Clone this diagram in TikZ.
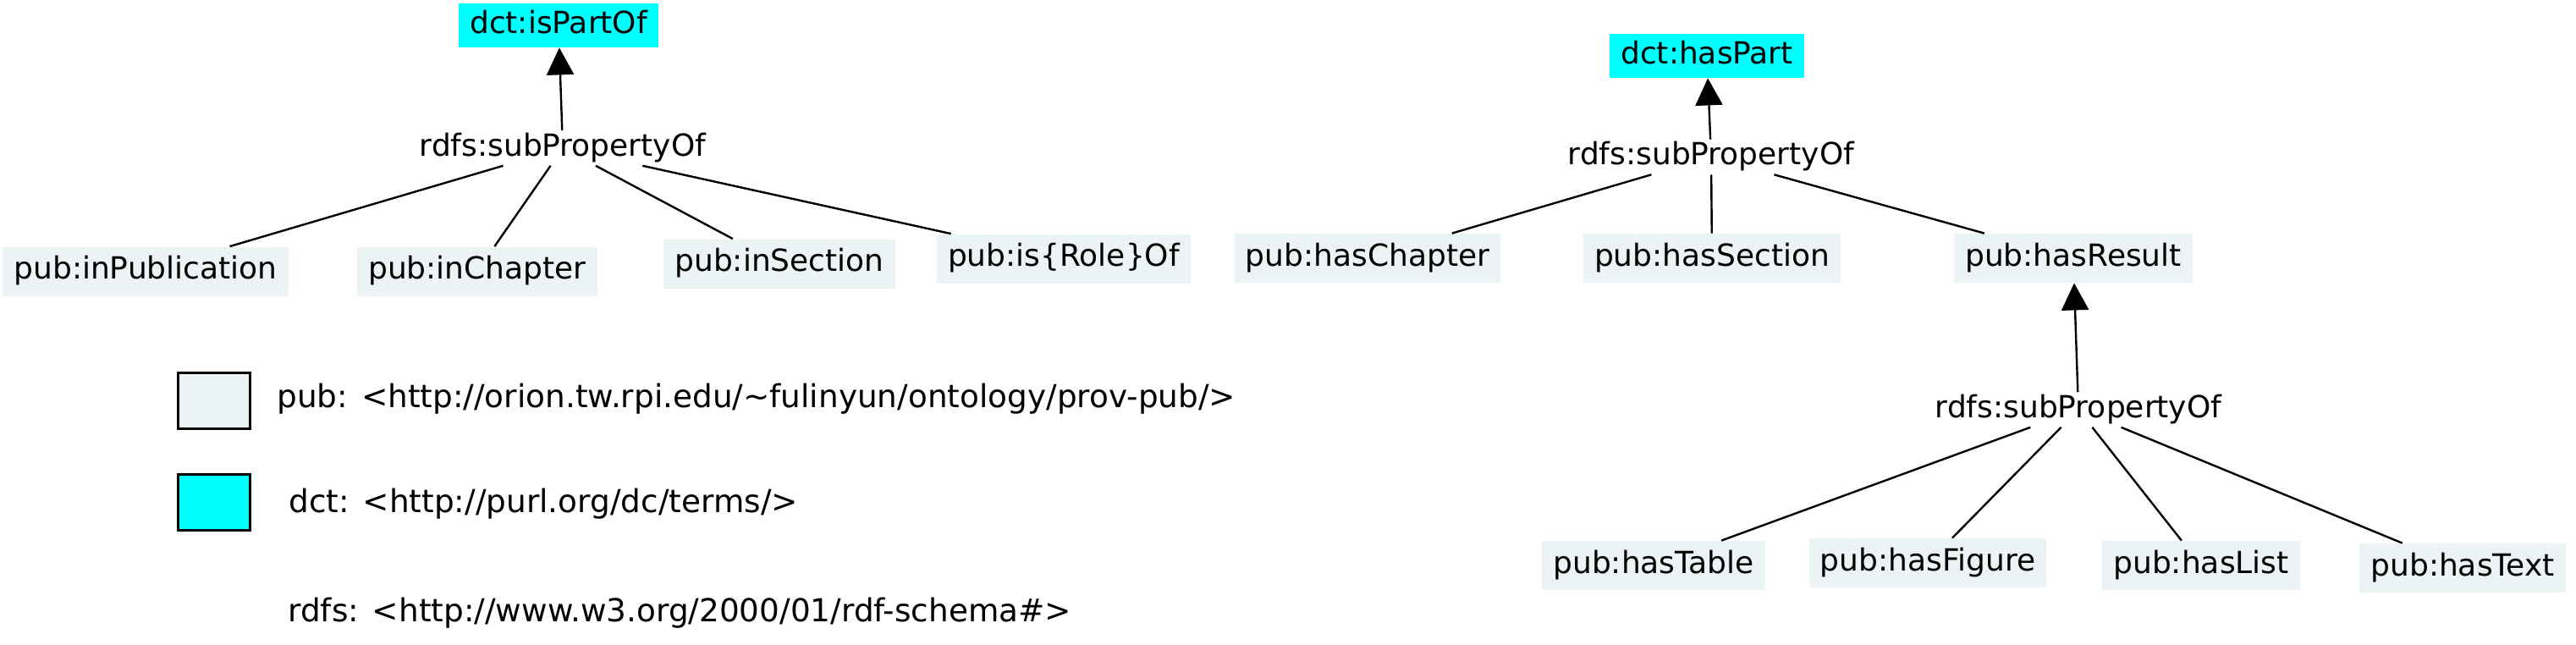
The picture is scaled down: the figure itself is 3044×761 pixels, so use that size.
\documentclass[tikz,border=0pt]{standalone}
\usepackage{fontspec}
\setmainfont{DejaVu Sans}
\usetikzlibrary{arrows.meta}
\definecolor{pubgray}{RGB}{236,243,245}
\definecolor{dctcyan}{RGB}{0,255,255}
\tikzset{
  base/.style={font=\fontsize{18pt}{22pt}\selectfont, text height=13.7pt, text depth=4.3pt},
  pubbox/.style={base, fill=pubgray, inner xsep=6.5pt, inner ysep=0pt, minimum height=29pt},
  dctbox/.style={base, fill=dctcyan, inner xsep=6.5pt, inner ysep=0pt, minimum height=26pt},
  rellabel/.style={base, inner sep=1.2pt},
  legendbox/.style={draw=black, line width=1.35pt, minimum width=42.7pt, minimum height=33.2pt, inner sep=0pt},
  legendtext/.style={font=\fontsize{18.7pt}{22pt}\selectfont, anchor=west, inner sep=0pt},
  conn/.style={line width=1.2pt},
  subarrow/.style={line width=1.2pt, -{Triangle[length=16pt,width=16pt]}}
}
\begin{document}
\begin{tikzpicture}[x=0.5pt, y=-0.5pt]
\useasboundingbox (0,0) rectangle (3044,761);
% left tree
\node[dctbox] (isPartOf) at (660,30) {dct:isPartOf};
\node[rellabel] (rdfsL) at (665,175) {rdfs:subPropertyOf};
\node[pubbox] (inPublication) at (172,320.5) {pub:inPublication};
\node[pubbox] (inChapter) at (564,320.5) {pub:inChapter};
\node[pubbox] (inSection) at (921,311.5) {pub:inSection};
\node[pubbox] (isRoleOf) at (1257,305.5) {pub:is\{Role\}Of};
\draw[subarrow] (rdfsL) -- (isPartOf);
\draw[conn] (rdfsL) -- (inPublication);
\draw[conn] (rdfsL) -- (inChapter);
\draw[conn] (rdfsL) -- (inSection);
\draw[conn] (rdfsL) -- (isRoleOf);
% right tree
\node[dctbox] (hasPart) at (2017,66) {dct:hasPart};
\node[rellabel] (rdfsR1) at (2022,185.5) {rdfs:subPropertyOf};
\node[pubbox] (hasChapter) at (1616,305) {pub:hasChapter};
\node[pubbox] (hasSection) at (2023,305) {pub:hasSection};
\node[pubbox] (hasResult) at (2450,305) {pub:hasResult};
\draw[subarrow] (rdfsR1) -- (hasPart);
\draw[conn] (rdfsR1) -- (hasChapter);
\draw[conn] (rdfsR1) -- (hasSection);
\draw[conn] (rdfsR1) -- (hasResult);
\node[rellabel] (rdfsR2) at (2456,484) {rdfs:subPropertyOf};
\node[pubbox] (hasTable) at (1954,668) {pub:hasTable};
\node[pubbox] (hasFigure) at (2278,665) {pub:hasFigure};
\node[pubbox] (hasList) at (2601,668) {pub:hasList};
\node[pubbox] (hasText) at (2910,671) {pub:hasText};
\draw[subarrow] (rdfsR2) -- (hasResult);
\draw[conn] (rdfsR2) -- (hasTable);
\draw[conn] (rdfsR2) -- (hasFigure);
\draw[conn] (rdfsR2) -- (hasList);
\draw[conn] (rdfsR2) -- (hasText);
% legend
\node[legendbox, fill=pubgray] (legPub) at (253,473.5) {};
\node[legendbox, fill=dctcyan] (legDct) at (253,593.5) {};
\node[legendtext] (legPubText) at (327,471) {pub: <http://orion.tw.rpi.edu/\textasciitilde fulinyun/ontology/prov-pub/>};
\node[legendtext] (legDctText) at (341,595) {dct: <http://purl.org/dc/terms/>};
\node[legendtext] (legRdfsText) at (340,724) {rdfs: <http://www.w3.org/2000/01/rdf-schema\#>};
\end{tikzpicture}
\end{document}
